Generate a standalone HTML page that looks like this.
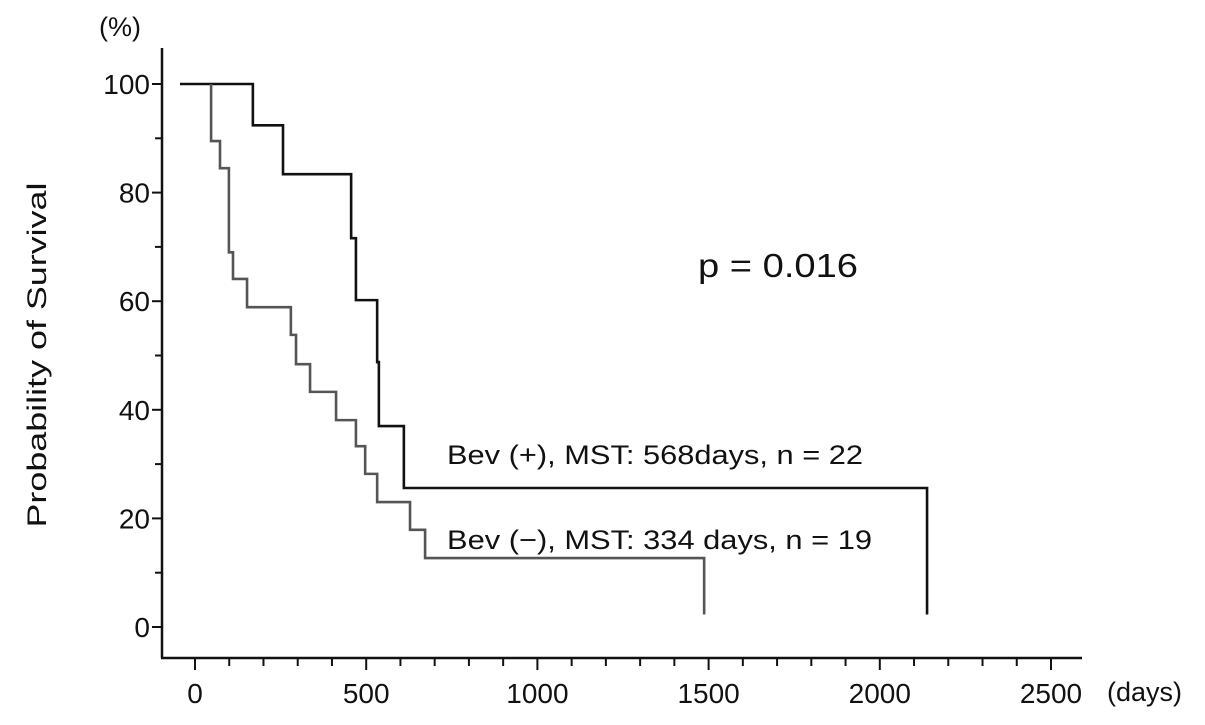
<!DOCTYPE html>
<html><head><meta charset="utf-8"><style>
html,body{margin:0;padding:0;background:#fff;}
svg{display:block;font-family:"Liberation Sans",sans-serif;}
</style></head><body>
<svg id="chart" width="1205" height="725" viewBox="0 0 1205 725">
<g id="axes"></g>
<g id="series"></g>
<text x="99" y="36" font-size="27" fill="#111">(%)</text>
<text transform="translate(46,355) rotate(-90)" text-anchor="middle" font-size="27" fill="#111" textLength="345" lengthAdjust="spacingAndGlyphs">Probability of  Survival</text>
<text x="698" y="277" font-size="33" fill="#111" textLength="160" lengthAdjust="spacingAndGlyphs">p = 0.016</text>
<text x="447" y="464" font-size="27" fill="#111" textLength="416" lengthAdjust="spacingAndGlyphs">Bev (+), MST: 568days, n = 22</text>
<text x="447" y="549" font-size="27" fill="#111" textLength="425" lengthAdjust="spacingAndGlyphs">Bev (−), MST: 334 days, n = 19</text>
<text x="1107" y="701" font-size="27" fill="#111">(days)</text>
</svg>
<script>
const xTickLabels = [0, 500, 1000, 1500, 2000, 2500];
const yTickLabels = [0, 20, 40, 60, 80, 100];
const plusStart = -44;
const plusTimes = [169, 257, 456, 470, 532, 537, 610, 2138];
const plusSurv  = [92.4, 83.4, 71.6, 60.2, 48.8, 37, 25.6, 2.3];
const minusStart = 47;
const minusTimes = [47, 73, 99, 99, 99, 111, 152, 280, 295, 336, 412, 470, 497, 532, 628, 672, 1487];
const minusSurv  = [89.5, 84.5, 79, 74, 69, 64.1, 58.9, 53.8, 48.4, 43.3, 38.1, 33.3, 28.2, 23, 17.9, 12.7, 2.3];

const NS = "http://www.w3.org/2000/svg";
const xs = d => 195 + d * 171.2 / 500;
const ys = p => 627 - p * 5.43;
function mk(tag, attrs, parent) {
  const e = document.createElementNS(NS, tag);
  for (const k in attrs) e.setAttribute(k, attrs[k]);
  parent.appendChild(e);
  return e;
}
const axes = document.getElementById('axes');
const series = document.getElementById('series');

let el = mk('line', {x1:162, y1:48, x2:162, y2:658, stroke:'#111', 'stroke-width':2.5}, axes);


el = mk('line', {x1:161, y1:658, x2:1082, y2:658, stroke:'#111', 'stroke-width':2.5}, axes);



for (let v = 0; v <= 100; v += 10) {
  const major = v % 20 === 0;
  const t = mk('line', {x1: major ? 152 : 155, y1: ys(v), x2:162, y2: ys(v), stroke:'#111', 'stroke-width':2}, axes);
  
  
}
yTickLabels.forEach(v => {
  const t = mk('text', {x:150, y: ys(v) + 10, 'text-anchor':'end', 'font-size':28, fill:'#111'}, axes);
  t.textContent = v;
  
  
});
for (let d = 0; d <= 2500; d += 100) {
  const major = d % 500 === 0;
  const t = mk('line', {x1: xs(d), y1:658, x2: xs(d), y2: major ? 670 : 666, stroke:'#111', 'stroke-width':2}, axes);
  
  
}
xTickLabels.forEach(v => {
  const t = mk('text', {x: xs(v), y: 703, 'text-anchor':'middle', 'font-size':28, fill:'#111'}, axes);
  t.textContent = v;
  
  
});

function stepPath(start, times, surv) {
  let d = 'M' + xs(start) + ' ' + ys(100);
  for (let i = 0; i < times.length; i++) {
    d += ' H' + xs(times[i]) + ' V' + ys(surv[i]);
  }
  return d;
}
const pPlus = mk('path', {d: stepPath(plusStart, plusTimes, plusSurv), fill:'none', stroke:'#111', 'stroke-width':2.6}, series);


const pMinus = mk('path', {d: stepPath(minusStart, minusTimes, minusSurv), fill:'none', stroke:'#555', 'stroke-width':2.6}, series);


</script>
</body></html>
